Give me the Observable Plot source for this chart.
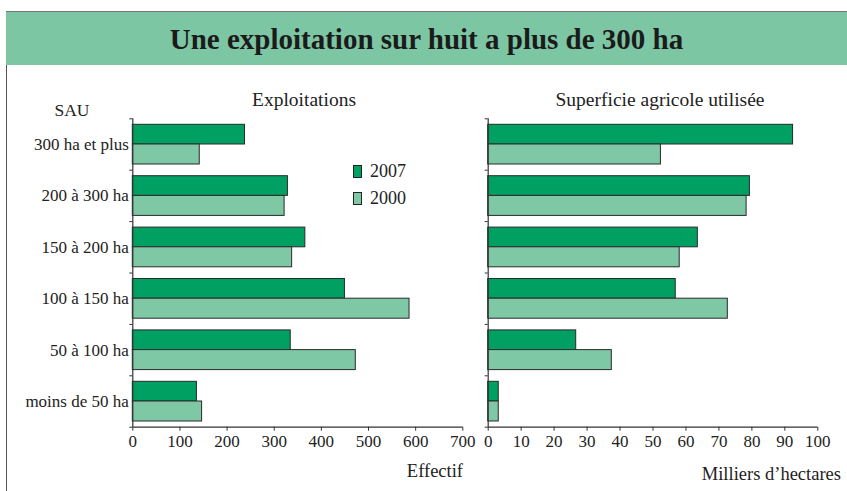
<!DOCTYPE html>
<html>
<head>
<meta charset="utf-8">
<script src="https://cdn.jsdelivr.net/npm/d3@7"></script>
<script src="https://cdn.jsdelivr.net/npm/@observablehq/plot@0.6"></script>
<style>
  html, body { margin: 0; padding: 0; background: #fff; }
  #wrap { position: relative; width: 847px; height: 491px; overflow: hidden; font-family: "Liberation Serif", "DejaVu Serif", serif; color: #222; }
  .abs { position: absolute; white-space: nowrap; }
  .c { transform: translate(-50%, -50%); }
  .rc { transform: translate(-100%, -50%); }
  #header { position: absolute; left: 6px; top: 11px; right: 0; height: 53px; background: #7dc6a4; border-top: 1.5px solid #777; }
  #title { position: absolute; left: 0; right: 0; top: 50%; transform: translateY(-50%); text-align: center; font-weight: bold; font-size: 29px; color: #1b1b1b; }
  #lborder { position: absolute; left: 6px; top: 11px; bottom: 0; width: 1.3px; background: #555; }
  .sw { position: absolute; width: 7px; height: 11px; border: 1px solid #222; }
</style>
</head>
<body>
<div id="wrap">
  <div id="lborder"></div>
  <div id="header"><div id="title">Une exploitation sur huit a plus de 300 ha</div></div>
</div>
<script>
// ---- data ----
const categories = ["300 ha et plus", "200 à 300 ha", "150 à 200 ha", "100 à 150 ha", "50 à 100 ha", "moins de 50 ha"];
const years = ["2007", "2000"];
const exploitations2007 = [238, 329, 366, 450, 335, 136];
const exploitations2000 = [142, 322, 338, 587, 473, 147];
const superficie2007 = [92.5, 79.4, 63.6, 56.9, 26.7, 3.2];
const superficie2000 = [52.4, 78.4, 58.1, 72.7, 37.5, 3.2];
const ticksExploitations = [0, 100, 200, 300, 400, 500, 600, 700];
const ticksSuperficie = [0, 10, 20, 30, 40, 50, 60, 70, 80, 90, 100];

const colors = {"2007": "#00a062", "2000": "#7ec8a5"};
const wrap = document.getElementById("wrap");

function panel(v2007, v2000, xmax, ticks, opts) {
  const rows = categories.map((c, i) => ({cat: c, idx: i, a: v2007[i], b: v2000[i]}));
  const n = categories.length;
  const marks = [
    Plot.rect(rows, {x1: 0, x2: "a", y1: "idx", y2: d => d.idx + 1, insetTop: 6, insetBottom: 25.7, fill: colors["2007"], stroke: "#2a2a2a", strokeWidth: 1}),
    Plot.rect(rows, {x1: 0, x2: "b", y1: "idx", y2: d => d.idx + 1, insetTop: 25.7, insetBottom: 5.7, fill: colors["2000"], stroke: "#2a2a2a", strokeWidth: 1}),
    Plot.ruleX([0], {stroke: "#333", strokeWidth: 1.2}),
    Plot.ruleY([n], {stroke: "#333", strokeWidth: 1.2}),
    Plot.axisY(d3.range(n + 1), {tickSize: 3, tickFormat: () => "", stroke: "#333"}),
    Plot.axisX(ticks, {tickSize: 4, tickPadding: 4, stroke: "#333", fill: "#222", fontSize: 17})
  ];
  if (opts.labels) {
    marks.push(Plot.axisY(d3.range(n).map(i => i + 0.5), {tickSize: 0, tickPadding: 4, tickFormat: v => categories[Math.floor(v)], fill: "#222", fontSize: 17}));
  }
  const svg = Plot.plot({
    width: opts.width,
    height: 491,
    marginTop: 118.3,
    marginBottom: 64.3,
    marginLeft: opts.marginLeft,
    marginRight: opts.marginRight,
    x: {domain: [0, xmax], label: null},
    y: {domain: [0, n], reverse: true, label: null},
    style: {fontFamily: "Liberation Serif", fontSize: "17px", color: "#222", background: "transparent", overflow: "visible"},
    marks
  });
  svg.style.position = "absolute";
  svg.style.left = opts.left + "px";
  svg.style.top = "0px";
  return svg;
}

wrap.insertBefore(panel(exploitations2007, exploitations2000, 700, ticksExploitations,
  {width: 480, left: 0, marginLeft: 132.3, marginRight: 17.7, labels: true}), wrap.firstChild);
wrap.insertBefore(panel(superficie2007, superficie2000, 100, ticksSuperficie,
  {width: 377, left: 470, marginLeft: 17.7, marginRight: 29.7, labels: false}), wrap.firstChild);

function addText(txt, x, y, cls, size) {
  const d = document.createElement("div");
  d.className = "abs " + cls;
  d.style.left = x + "px";
  d.style.top = y + "px";
  d.style.fontSize = size + "px";
  d.textContent = txt;
  wrap.appendChild(d);
  return d;
}
addText("Exploitations", 304, 100, "c", 19.5);
addText("Superficie agricole utilisée", 660, 100, "c", 19.5);
addText("SAU", 72, 110, "c", 17.5);
addText("Effectif", 463, 471, "rc", 18.5);
addText("Milliers d’hectares", 841, 474, "rc", 18.5);

// legend
const legendY = [171, 198];
years.forEach((yr, i) => {
  const s = document.createElement("div");
  s.className = "sw";
  s.style.left = "353px";
  s.style.top = (legendY[i] - 6.5) + "px";
  s.style.background = colors[yr];
  wrap.appendChild(s);
  addText(yr, 370, legendY[i], "", 18).style.transform = "translateY(-50%)";
});
</script>
</body>
</html>
